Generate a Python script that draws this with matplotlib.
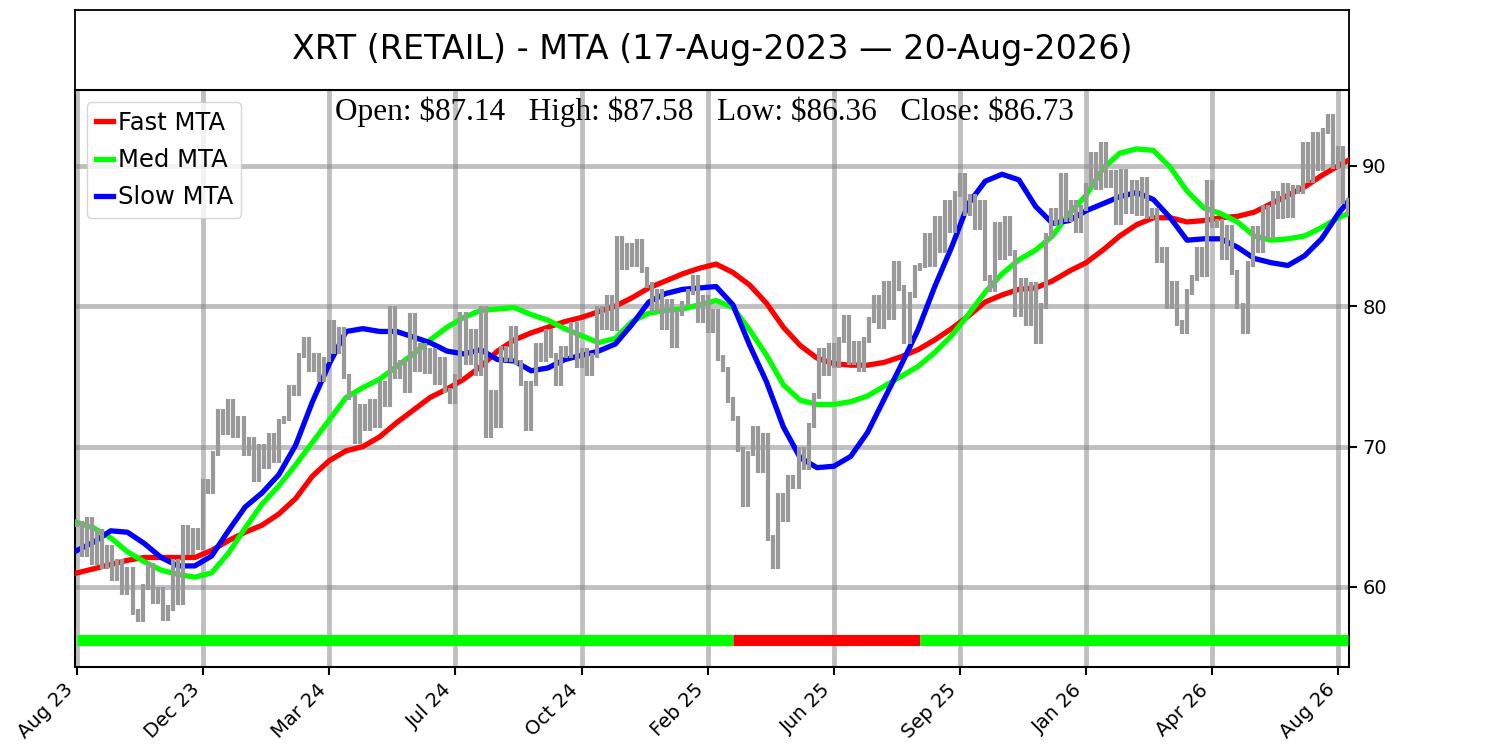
import matplotlib
matplotlib.use("Agg")
import matplotlib.pyplot as plt
import numpy as np

# ---------------- data ----------------
title = "XRT (RETAIL) - MTA (17-Aug-2023 \u2014 20-Aug-2026)"
ohlc_text = "Open: $87.14   High: $87.58   Low: $86.36   Close: $86.73"

tick_labels = ['Aug 23', 'Dec 23', 'Mar 24', 'Jul 24', 'Oct 24', 'Feb 25',
               'Jun 25', 'Sep 25', 'Jan 26', 'Apr 26', 'Aug 26']
tick_step = 75          # bars between date ticks

# price path, one value every 3 trading days
price_step = 3
prices = [
    64.5, 62.3, 64.8, 61.8, 63.9, 61.5, 62.8, 60.6, 61.8, 59.6,
    61.2, 58.2, 57.7, 60.0, 61.5, 59.0, 59.8, 57.8, 58.5, 61.8,
    58.9, 64.2, 62.5, 64.0, 62.8, 67.5, 66.8, 69.5, 72.5, 71.0,
    73.2, 70.8, 72.0, 69.5, 70.5, 67.7, 70.0, 68.6, 70.8, 69.0,
    71.8, 72.0, 74.2, 73.8, 76.5, 77.6, 75.5, 76.5, 74.8, 76.2,
    78.8, 76.8, 78.3, 75.0, 73.5, 70.4, 72.8, 71.3, 73.2, 71.5,
    74.5, 73.0, 79.8, 75.0, 76.0, 74.0, 79.3, 75.5, 77.2, 75.4,
    76.8, 74.6, 76.2, 74.0, 73.2, 75.0, 79.4, 76.0, 78.2, 75.2,
    79.8, 70.8, 73.8, 71.5, 77.0, 76.2, 78.4, 76.0, 74.5, 71.3,
    74.5, 77.2, 76.2, 78.2, 76.5, 74.5, 77.0, 76.5, 78.7, 75.8,
    76.8, 75.2, 76.5, 79.8, 78.5, 80.6, 78.4, 84.8, 82.8, 84.3,
    83.0, 84.6, 82.6, 81.5, 79.8, 81.0, 78.5, 80.3, 77.2, 79.5,
    80.2, 81.0, 82.0, 79.0, 80.6, 78.3, 79.6, 76.3, 75.5, 73.3,
    72.0, 69.8, 65.9, 69.5, 71.3, 68.3, 70.8, 63.5, 61.5, 66.5,
    64.8, 67.8, 67.2, 69.8, 68.5, 71.5, 73.6, 76.8, 75.2, 77.2,
    75.8, 77.6, 79.2, 76.0, 77.3, 75.5, 77.6, 79.0, 80.6, 78.6,
    81.6, 79.2, 83.0, 81.3, 77.5, 80.8, 82.7, 82.9, 85.0, 83.0,
    86.2, 84.0, 87.4, 85.4, 88.0, 89.3, 86.6, 87.8, 85.6, 87.4,
    82.0, 81.2, 85.8, 83.5, 86.2, 83.8, 79.4, 81.8, 78.8, 81.5,
    77.5, 80.0, 85.0, 86.8, 86.0, 89.3, 86.2, 87.4, 85.4, 87.0,
    88.6, 90.8, 88.5, 91.5, 88.6, 89.5, 86.0, 89.6, 86.8, 88.8,
    86.6, 89.0, 86.4, 86.8, 83.3, 84.0, 80.0, 81.6, 78.8, 78.2,
    81.0, 82.0, 84.0, 82.3, 88.8, 85.8, 86.0, 83.5, 85.6, 82.4,
    80.0, 78.2, 83.0, 85.5, 84.0, 87.0, 85.0, 88.0, 86.4, 88.6,
    86.5, 88.4, 88.2, 91.5, 89.0, 92.2, 89.8, 92.5, 93.5, 90.0,
    91.2, 87.5, 86.7,
]

# MTA lines sampled every 10 bars (last sample at bar 756)
mta_idx = list(range(0, 751, 10)) + [756]
fast_mta = [61.0, 61.3, 61.6, 61.9, 62.1, 62.1, 62.1, 62.1, 62.6, 63.3,
            63.9, 64.4, 65.2, 66.3, 67.9, 69.0, 69.7, 70.0, 70.7, 71.7,
            72.6, 73.5, 74.1, 74.8, 75.7, 76.8, 77.6, 78.1, 78.5, 78.9,
            79.2, 79.6, 80.0, 80.6, 81.3, 81.8, 82.3, 82.7, 83.0, 82.4,
            81.5, 80.2, 78.5, 77.2, 76.3, 75.9, 75.8, 75.8, 76.0, 76.4,
            76.9, 77.6, 78.4, 79.3, 80.3, 80.8, 81.2, 81.3, 81.8, 82.5,
            83.1, 84.0, 85.0, 85.8, 86.3, 86.3, 86.0, 86.1, 86.3, 86.4,
            86.7, 87.3, 87.9, 88.5, 89.3, 90.0, 90.4]
med_mta = [64.6, 64.2, 63.5, 62.5, 61.8, 61.2, 60.9, 60.7, 61.0, 62.4,
           64.2, 65.9, 67.2, 68.7, 70.3, 71.9, 73.5, 74.2, 74.8, 75.7,
           76.6, 77.6, 78.5, 79.2, 79.7, 79.8, 79.9, 79.4, 79.0, 78.4,
           77.9, 77.4, 77.7, 78.9, 79.5, 79.7, 79.8, 80.1, 80.4, 79.9,
           78.3, 76.5, 74.4, 73.3, 73.0, 73.0, 73.2, 73.6, 74.3, 75.0,
           75.7, 76.7, 77.9, 79.4, 81.0, 82.3, 83.3, 84.0, 85.0, 86.6,
           87.9, 89.8, 90.9, 91.2, 91.1, 89.9, 88.2, 87.0, 86.6, 86.0,
           85.0, 84.7, 84.8, 85.0, 85.6, 86.3, 86.6]
slow_mta = [62.6, 63.2, 64.0, 63.9, 63.1, 62.1, 61.5, 61.5, 62.2, 64.0,
            65.7, 66.7, 68.0, 70.1, 73.2, 75.9, 78.2, 78.4, 78.2, 78.2,
            77.8, 77.4, 76.8, 76.6, 76.9, 76.2, 76.1, 75.4, 75.6, 76.2,
            76.5, 76.8, 77.3, 78.7, 80.3, 80.9, 81.2, 81.3, 81.4, 80.1,
            77.2, 74.6, 71.4, 69.2, 68.5, 68.6, 69.3, 71.0, 73.4, 75.8,
            78.3, 81.4, 84.2, 87.3, 88.9, 89.4, 89.0, 87.1, 85.9, 86.1,
            86.8, 87.3, 87.8, 88.1, 87.6, 86.3, 84.7, 84.8, 84.8, 84.2,
            83.4, 83.1, 82.9, 83.6, 84.8, 86.6, 87.5]

# trend signal bar: segment start/end bars and state
signal_starts = [0, 390, 501]
signal_ends = [390, 501, 756]
signal_states = ['bull', 'bear', 'bull']
signal_level = 56.2

# ---------------- figure ----------------
fig = plt.figure(figsize=(15, 7.5), dpi=100)

ax_t = fig.add_axes([0.05, 0.88, 0.84933, 0.10667])
ax_t.set_xticks([])
ax_t.set_yticks([])
for s in ax_t.spines.values():
    s.set_linewidth(1.3)
ax_t.text(0.5, 0.5, title, ha='center', va='center', fontsize=24,
          family='DejaVu Sans', transform=ax_t.transAxes)

ax = fig.add_axes([0.05, 0.11067, 0.84933, 0.76933])
ax.set_axisbelow(True)
ax.grid(True, color='grey', alpha=0.5, linewidth=3.5)

ax.plot(mta_idx, fast_mta, color='red', lw=3.8, label='Fast MTA', zorder=3)
ax.plot(mta_idx, med_mta, color='#00ff00', lw=3.8, label='Med MTA', zorder=3)
ax.plot(mta_idx, slow_mta, color='blue', lw=3.8, label='Slow MTA', zorder=3)

# price bars
p = np.array(prices)
x = np.arange(len(p)) * price_step
prev = np.concatenate([[p[0]], p[:-1]])
lo = np.minimum(prev, p) - 0.2
hi = np.maximum(prev, p) + 0.2
ax.vlines(x, lo, hi, color='#999999', lw=3.0, zorder=4)

# signal bar
state_colors = {'bull': '#00ff00', 'bear': 'red'}
for s0, s1, st in zip(signal_starts, signal_ends, signal_states):
    ax.plot([s0, s1], [signal_level, signal_level], color=state_colors[st],
            lw=8, solid_capstyle='butt', zorder=5)

ax.set_xlim(-1.2, 756.3)
ax.set_ylim(54.3, 95.4)

ax.set_xticks([i * tick_step for i in range(len(tick_labels))])
ax.set_xticklabels(tick_labels, rotation=45, ha='right', fontsize=14)
ax.yaxis.tick_right()
ax.set_yticks([60, 70, 80, 90])
ax.tick_params(axis='both', labelsize=14, length=6, width=1.5)
for s in ax.spines.values():
    s.set_linewidth(1.5)

ax.legend(loc='upper left', fontsize=17.5, handlelength=0.7,
          handletextpad=0.2, labelspacing=0.55, borderpad=0.35)

ax.text(0.494, 0.988, ohlc_text, transform=ax.transAxes, ha='center',
        va='top', fontsize=22.5, family='Liberation Serif', zorder=6,
        parse_math=False)

fig.savefig('out.png', dpi=100)
